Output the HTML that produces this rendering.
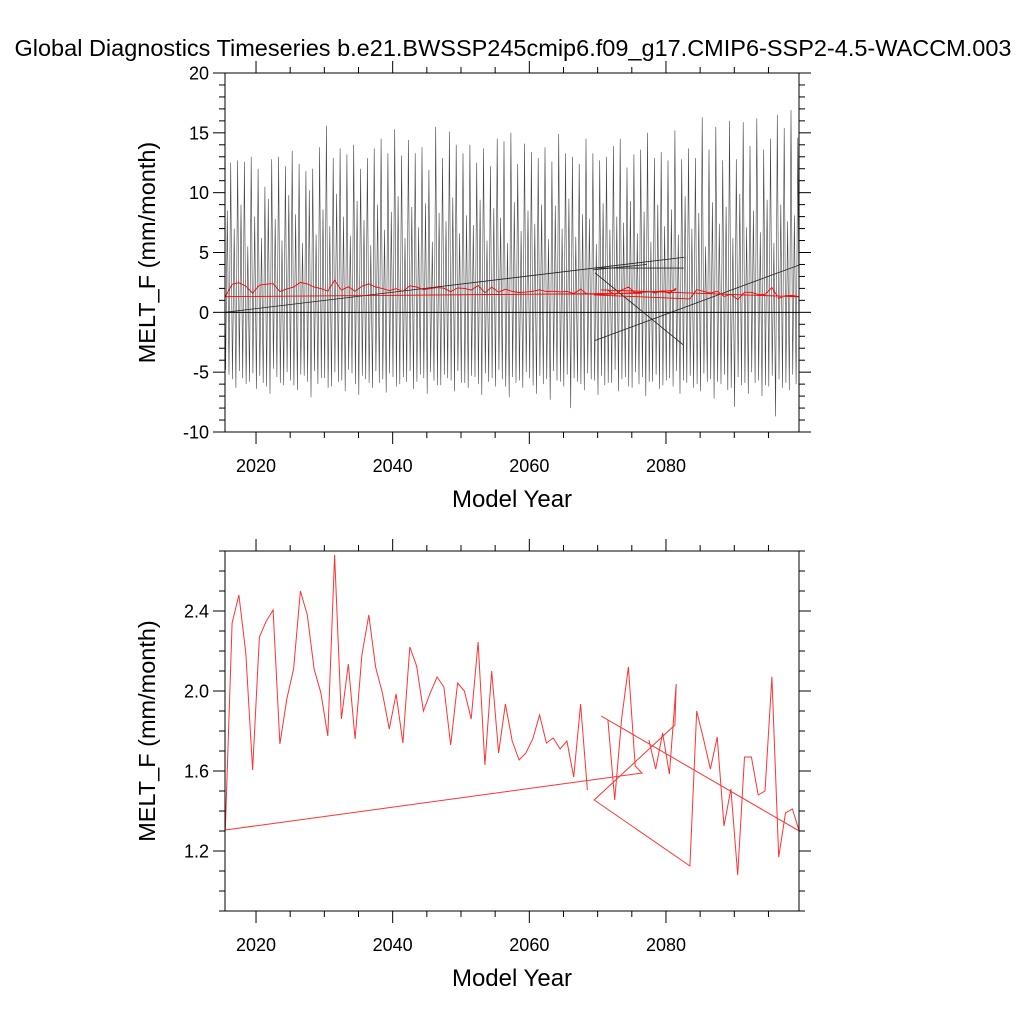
<!DOCTYPE html>
<html><head><meta charset="utf-8"><style>
body{margin:0;background:#fff;}
svg{display:block;font-family:"Liberation Sans",sans-serif;}
</style></head><body>
<svg id="chart" width="1024" height="1024" viewBox="0 0 1024 1024" xmlns="http://www.w3.org/2000/svg">
<rect width="1024" height="1024" fill="#fff"/>
<text x="513" y="56" font-size="23.5" text-anchor="middle">Global Diagnostics Timeseries b.e21.BWSSP245cmip6.f09_g17.CMIP6-SSP2-4.5-WACCM.003</text>
<defs>
<clipPath id="c1"><rect x="225" y="73" width="574" height="359"/></clipPath>
<clipPath id="c2"><rect x="225" y="551" width="574" height="360"/></clipPath>
</defs>
<g id="top"></g>
<g id="bot"></g>
</svg>
<script>
// ---- data ----
const xTickLabels = [2020, 2040, 2060, 2080];
const topYTicks = [-10, -5, 0, 5, 10, 15, 20];
const botYTicks = [1.2, 1.6, 2.0, 2.4];
// annual means, in stored (jumbled) order
const annYears = [2077.5,2078.5,2079.5,2080.5,2081.5,2081.3,2069.5,2083.5,2084.5,2085.5,2086.5,2087.5,2088.5,2089.5,2090.5,2091.5,2092.5,2093.5,2094.5,2095.5,2096.5,2097.5,2098.5,2099.5,
 2070.5,2071.5,2072.5,2073.5,2074.5,2075.5,2076.5,
 2015.5,2016.5,2017.5,2018.5,2019.5,2020.5,2021.5,2022.5,2023.5,2024.5,2025.5,2026.5,2027.5,2028.5,2029.5,2030.5,2031.5,2032.5,2033.5,2034.5,2035.5,2036.5,2037.5,2038.5,2039.5,2040.5,2041.5,2042.5,2043.5,2044.5,2045.5,2046.5,2047.5,2048.5,2049.5,2050.5,2051.5,2052.5,2053.5,2054.5,2055.5,2056.5,2057.5,2058.5,2059.5,2060.5,2061.5,2062.5,2063.5,2064.5,2065.5,2066.5,2067.5,2068.5];
const annValues = [1.755,1.61,1.79,1.585,2.035,1.83,1.455,1.125,1.90,1.76,1.61,1.77,1.325,1.51,1.08,1.67,1.67,1.48,1.50,2.07,1.17,1.39,1.41,1.30,
 1.875,1.855,1.455,1.86,2.12,1.625,1.59,
 1.305,2.34,2.48,2.19,1.605,2.27,2.35,2.405,1.735,1.96,2.11,2.50,2.38,2.11,1.99,1.775,2.68,1.86,2.135,1.76,2.18,2.38,2.12,1.99,1.81,1.985,1.74,2.22,2.125,1.90,1.99,2.07,2.02,1.73,2.04,2.00,1.86,2.245,1.63,2.10,1.69,1.935,1.75,1.655,1.69,1.76,1.88,1.74,1.765,1.71,1.75,1.57,1.935,1.505];
// monthly series summarised per year: big peak, secondary peak, troughs
const monYears = [2015,2016,2017,2018,2019,2020,2021,2022,2023,2024,2025,2026,2027,2028,2029,2030,2031,2032,2033,2034,2035,2036,2037,2038,2039,2040,2041,2042,2043,2044,2045,2046,2047,2048,2049,2050,2051,2052,2053,2054,2055,2056,2057,2058,2059,2060,2061,2062,2063,2064,2065,2066,2067,2068,2069,2070,2071,2072,2073,2074,2075,2076,2077,2078,2079,2080,2081,2082,2083,2084,2085,2086,2087,2088,2089,2090,2091,2092,2093,2094,2095,2096,2097,2098,2099];
const monHi = [12.2,12.5,12.7,12.6,13.0,12.0,10.5,12.8,13.0,12.2,13.5,12.4,11.8,12.0,13.8,15.6,12.9,13.7,13.2,14.0,12.0,12.9,13.7,14.5,13.3,15.3,13.1,14.4,13.3,13.8,11.9,15.5,12.9,15.1,14.0,13.3,14.0,12.5,13.7,12.2,14.5,14.3,15.0,12.4,14.1,13.4,12.9,13.8,12.6,14.9,13.3,13.0,12.4,14.5,13.3,12.7,13.0,13.9,14.5,12.1,13.2,13.6,15.0,12.9,13.4,12.7,15.2,12.8,13.7,12.9,16.3,13.6,15.5,12.7,16.0,12.8,15.9,13.9,16.2,13.6,14.5,16.5,15.4,16.9,14.6];
const monMid = [8.5,7.0,9.0,5.5,8.0,6.2,9.5,7.8,6.0,9.8,8.2,5.8,10.2,6.5,8.6,7.2,9.9,8.0,6.4,9.3,7.7,5.6,9.0,6.9,8.4,9.7,6.2,8.8,7.1,9.1,5.9,8.3,7.6,9.6,6.6,8.1,7.3,9.4,6.0,8.7,7.9,5.8,9.2,6.8,8.5,7.4,9.0,6.1,8.9,7.0,9.5,6.3,8.2,7.8,5.7,9.1,6.9,8.0,7.5,9.3,6.6,8.4,5.9,9.0,7.2,8.6,6.5,9.7,7.0,8.3,5.5,9.2,7.4,8.8,6.2,9.9,7.1,8.5,6.7,9.4,5.8,9.0,7.6,8.1,6.4];
const monLo1 = [-6.0,-5.2,-6.3,-5.5,-5.8,-6.4,-5.9,-6.8,-5.4,-6.1,-5.7,-6.5,-5.3,-7.1,-6.0,-5.5,-6.2,-5.8,-6.6,-5.1,-6.9,-5.6,-6.3,-5.9,-6.7,-5.4,-6.0,-5.8,-6.4,-5.2,-6.8,-5.7,-6.1,-5.5,-6.6,-5.9,-6.3,-5.4,-6.9,-5.8,-6.2,-5.6,-7.1,-5.9,-6.3,-5.5,-6.8,-6.0,-7.3,-5.7,-6.2,-8.0,-5.8,-6.5,-5.6,-6.9,-6.1,-5.9,-6.6,-5.4,-6.3,-6.0,-7.0,-5.8,-6.4,-5.7,-6.2,-6.8,-5.9,-6.3,-6.6,-5.8,-7.2,-6.0,-6.5,-7.9,-6.1,-6.8,-5.9,-7.0,-6.2,-8.7,-6.3,-6.5,-6.0];
const monLo2 = [-4.8,-5.6,-4.9,-6.0,-5.1,-5.3,-6.2,-4.7,-5.9,-5.0,-6.1,-5.2,-5.8,-4.9,-5.5,-6.3,-5.0,-5.7,-4.8,-6.0,-5.3,-5.9,-4.9,-5.6,-5.1,-6.2,-5.4,-4.9,-5.8,-5.5,-5.0,-6.1,-5.2,-5.7,-4.9,-5.9,-5.3,-6.0,-5.1,-5.5,-4.8,-6.2,-5.4,-5.7,-5.0,-6.1,-5.3,-5.6,-4.9,-5.8,-5.2,-5.5,-6.0,-5.1,-5.7,-5.3,-5.9,-4.8,-5.6,-6.2,-5.0,-5.4,-5.8,-5.2,-6.1,-5.5,-4.9,-5.7,-5.3,-6.0,-5.1,-5.6,-5.8,-5.2,-6.3,-5.4,-5.9,-5.0,-5.7,-6.1,-5.3,-5.6,-5.9,-5.2,-5.5];
// wrap-around jump segments of the monthly series
const jumpX1 = [2015.46, 2069.3, 2069.6, 2069.6, 2069.5];
const jumpY1 = [0.0, 3.55, 3.3, -2.35, 3.7];
const jumpX2 = [2082.7, 2077.2, 2082.5, 2099.47, 2082.6];
const jumpY2 = [4.6, 4.0, -2.7, 3.95, 3.7];

// ---- scales ----
const X0 = 225, X1 = 799, XMIN = 2015.46, XMAX = 2099.47;
function sx(v){ return X0 + (v - XMIN) / (XMAX - XMIN) * (X1 - X0); }
function syTop(v){ return 432 - (v + 10) / 30 * 359; }
function syBot(v){ return 911 - (v - 0.9) / 1.8 * 360; }
const NS = "http://www.w3.org/2000/svg";
function mk(tag, attrs, parent){ const e = document.createElementNS(NS, tag); for (const k in attrs) e.setAttribute(k, attrs[k]); parent.appendChild(e); return e; }

function axes(g, top, bottom, sy, yTicks, yMinor, yFmt, yMin, yMax, prefix){
  for (let yr = 2015; yr <= 2100; yr += 5){
    const x = sx(yr); if (x < X0 - 0.5 || x > X1 + 0.5) continue;
    const len = yr % 20 === 0 ? 12 : 6;
    const t1 = mk('line', {x1:x, x2:x, y1:bottom, y2:bottom+len, stroke:'#000', 'stroke-width':1}, g);
    
    
    const t2 = mk('line', {x1:x, x2:x, y1:top, y2:top-len, stroke:'#000', 'stroke-width':1}, g);
    
    
  }
  xTickLabels.forEach(v => {
    const t = mk('text', {x:sx(v), y:bottom+40, 'font-size':18, 'text-anchor':'middle'}, g);
    t.textContent = v;
    
    
  });
  for (let v = yMin; v <= yMax + 1e-9; v += yMinor){
    const y = sy(v); const major = yTicks.some(m => Math.abs(m - v) < 1e-6);
    const len = major ? 12 : 6;
    const a = mk('line', {x1:X0, x2:X0-len, y1:y, y2:y, stroke:'#000', 'stroke-width':1}, g);
    
    
    const b = mk('line', {x1:X1, x2:X1+len, y1:y, y2:y, stroke:'#000', 'stroke-width':1}, g);
    
    
  }
  yTicks.forEach(v => {
    const t = mk('text', {x:X0-16, y:sy(v)+6.5, 'font-size':18, 'text-anchor':'end'}, g);
    t.textContent = yFmt(v);
    
    
  });
  const f = mk('rect', {x:X0, y:top, width:X1-X0, height:bottom-top, fill:'none', stroke:'#000', 'stroke-width':1}, g);
  
  
  const xt = mk('text', {x:(X0+X1)/2, y:bottom+75, 'font-size':24, 'text-anchor':'middle'}, g);
  xt.textContent = 'Model Year';
  
  
  const cy = (top + bottom) / 2;
  const yt = mk('text', {x:155, y:cy, 'font-size':23.5, 'text-anchor':'middle', transform:'rotate(-90 155 '+cy+')'}, g);
  yt.textContent = 'MELT_F (mm/month)';
  
  
}

const gTop = document.getElementById('top');
const gBot = document.getElementById('bot');

// ---- top panel ----
const topData = mk('g', {'clip-path':'url(#c1)'}, gTop);


let pts = [];
monYears.forEach((yr, i) => {
  pts.push([sx(yr+0.05), syTop(monLo1[i])]);
  pts.push([sx(yr+0.3), syTop(monHi[i])]);
  pts.push([sx(yr+0.55), syTop(monLo2[i])]);
  pts.push([sx(yr+0.8), syTop(monMid[i])]);
});
const mline = mk('polyline', {points: pts.map(p => p[0].toFixed(1)+','+p[1].toFixed(1)).join(' '), fill:'none', stroke:'#444', 'stroke-width':0.6}, topData);


jumpX1.forEach((x, i) => {
  const l = mk('line', {x1:sx(x), y1:syTop(jumpY1[i]), x2:sx(jumpX2[i]), y2:syTop(jumpY2[i]), stroke:'#222', 'stroke-width':0.8}, topData);
  
  
});
const zl = mk('line', {x1:X0, x2:X1, y1:syTop(0), y2:syTop(0), stroke:'#000', 'stroke-width':1}, topData);


const ra = mk('polyline', {points: annYears.map((y,i) => sx(y).toFixed(1)+','+syTop(annValues[i]).toFixed(1)).join(' '), fill:'none', stroke:'#f00', 'stroke-width':0.9}, topData);


axes(gTop, 73, 432, syTop, topYTicks, 1, v => String(v), -10, 20, 'top');

// ---- bottom panel ----
const botData = mk('g', {'clip-path':'url(#c2)'}, gBot);


const rb = mk('polyline', {points: annYears.map((y,i) => sx(y).toFixed(1)+','+syBot(annValues[i]).toFixed(1)).join(' '), fill:'none', stroke:'#f33', 'stroke-width':1}, botData);


axes(gBot, 551, 911, syBot, botYTicks, 0.1, v => v.toFixed(1), 0.9, 2.7, 'bottom');
</script>
</body></html>
